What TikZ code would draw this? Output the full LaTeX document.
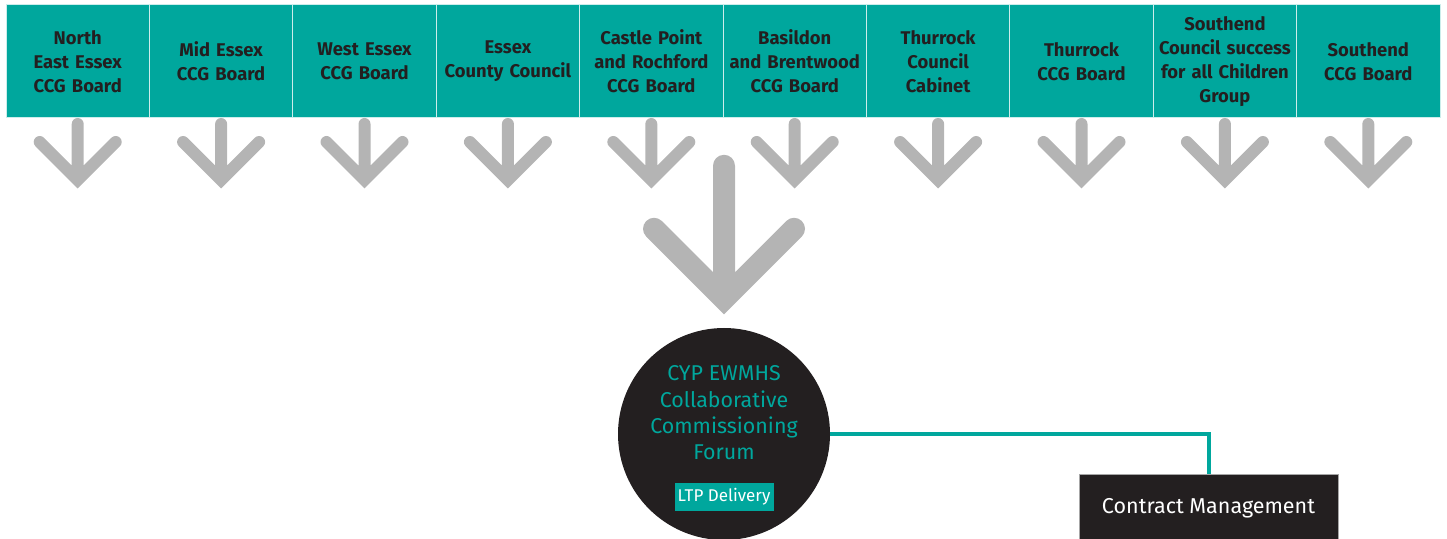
\documentclass[tikz,border=0pt]{standalone}
\usepackage{fontspec}
\setmainfont{Fira Sans}
\usetikzlibrary{positioning,calc}
\definecolor{ewteal}{RGB}{0,167,157}
\definecolor{ewdark}{RGB}{35,31,32}
\definecolor{ewgray}{RGB}{180,180,180}

\begin{document}
\begin{tikzpicture}[
    x=1pt,
    y=1pt,
    node distance=0pt,
    board/.style={
        draw=white!80!ewteal,
        line width=1pt,
        fill=ewteal,
        text=ewdark,
        minimum width=143.4pt,
        minimum height=113pt,
        inner sep=0pt,
        outer sep=0pt,
        text width=140pt,
        align=center,
        font=\bfseries\fontsize{18.4}{24}\selectfont
    },
    smallarrow/.style={draw=ewgray,line width=12pt,line cap=round,line join=miter},
    bigarrow/.style={draw=ewgray,line width=22pt,line cap=round,line join=miter},
    forum/.style={circle,fill=ewdark,minimum size=212pt,inner sep=0pt},
    forumtext/.style={text=ewteal,align=center,font=\fontsize{21.4}{26.4}\selectfont},
    ltp/.style={fill=ewteal,text=white,minimum width=99pt,minimum height=28pt,
        inner sep=0pt,font=\fontsize{17}{19}\selectfont},
    contract/.style={draw=gray!70,line width=0.6pt,fill=ewdark,text=white,
        minimum width=259pt,minimum height=68pt,inner sep=0pt,
        font=\fontsize{21.5}{24}\selectfont},
    link/.style={draw=ewteal,line width=4pt}
]
\useasboundingbox (0,0) rectangle (1447,538);

% commissioning bodies
\node[board] (ne) at (77.7,476.5) {North\\ East Essex\\ CCG Board};
\node[board,right=of ne] (mid) {Mid Essex\\ CCG Board};
\node[board,right=of mid] (west) {West Essex\\ CCG Board};
\node[board,right=of west] (ecc) {Essex\\ County Council};
\node[board,right=of ecc] (castle) {Castle Point\\ and Rochford\\ CCG Board};
\node[board,right=of castle] (basildon) {Basildon\\ and Brentwood\\ CCG Board};
\node[board,right=of basildon] (thcab) {Thurrock\\ Council\\ Cabinet};
\node[board,right=of thcab] (thccg) {Thurrock\\ CCG Board};
\node[board,right=of thccg] (sthgrp) {Southend\\ Council success\\ for all Children\\ Group};
\node[board,right=of sthgrp] (sthccg) {Southend\\ CCG Board};

\draw[smallarrow] ($(ne.south)+(0,-6)$) -- ++(0,-56) coordinate (t) ++(-38,38) -- (t) -- ++(38,38);
\draw[smallarrow] ($(mid.south)+(0,-6)$) -- ++(0,-56) coordinate (t) ++(-38,38) -- (t) -- ++(38,38);
\draw[smallarrow] ($(west.south)+(0,-6)$) -- ++(0,-56) coordinate (t) ++(-38,38) -- (t) -- ++(38,38);
\draw[smallarrow] ($(ecc.south)+(0,-6)$) -- ++(0,-56) coordinate (t) ++(-38,38) -- (t) -- ++(38,38);
\draw[smallarrow] ($(castle.south)+(0,-6)$) -- ++(0,-56) coordinate (t) ++(-38,38) -- (t) -- ++(38,38);
\draw[smallarrow] ($(basildon.south)+(0,-6)$) -- ++(0,-56) coordinate (t) ++(-38,38) -- (t) -- ++(38,38);
\draw[smallarrow] ($(thcab.south)+(0,-6)$) -- ++(0,-56) coordinate (t) ++(-38,38) -- (t) -- ++(38,38);
\draw[smallarrow] ($(thccg.south)+(0,-6)$) -- ++(0,-56) coordinate (t) ++(-38,38) -- (t) -- ++(38,38);
\draw[smallarrow] ($(sthgrp.south)+(0,-6)$) -- ++(0,-56) coordinate (t) ++(-38,38) -- (t) -- ++(38,38);
\draw[smallarrow] ($(sthccg.south)+(0,-6)$) -- ++(0,-56) coordinate (t) ++(-38,38) -- (t) -- ++(38,38);

% forum
\node[forum] (forum) at (724,104) {};
\node[forumtext] (forumlabel) at ($(forum.center)+(0,21)$)
    {CYP EWMHS\\ Collaborative\\ Commissioning\\ Forum};
\node[ltp] (ltp) at ($(forum.center)+(0,-63)$) {LTP Delivery};

\draw[bigarrow] ($(forum.north)+(0,162)$) -- ($(forum.north)+(0,29)$) coordinate (bigtip)
    ++(-70,70) -- (bigtip) -- ++(70,70);

\node[contract] (contract) at (1208.5,30) {Contract Management};
\draw[link] (forum.east) -| (contract.north);

\end{tikzpicture}
\end{document}
